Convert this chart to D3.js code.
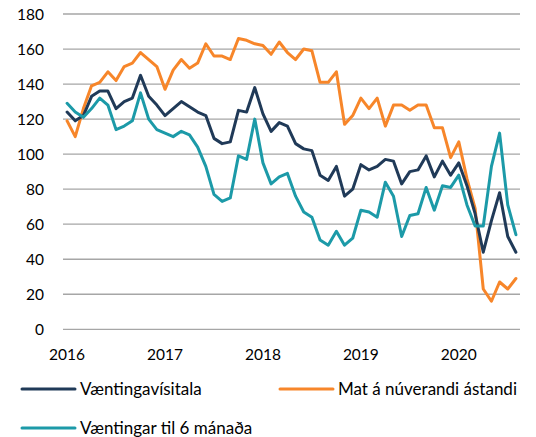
<!DOCTYPE html>
<html><head><meta charset="utf-8">
<script src="https://cdn.jsdelivr.net/npm/d3@7"></script>
<style>
html,body{margin:0;padding:0;background:#fff;}
svg text{font-family:Lato, "Liberation Sans", sans-serif;fill:#000;}
</style></head>
<body><svg id="c" width="536" height="437"></svg>
<script>
const startMonth = "2016-01";
const monthCount = 56;
const yearTicks = ["2016","2017","2018","2019","2020"];
const yTicks = [0,20,40,60,80,100,120,140,160,180];
const seriesNames = ["Væntingavísitala","Mat á núverandi ástandi","Væntingar til 6 mánaða"];
const seriesColors = ["#203a58","#f7862a","#1c9aa8"];
const vaentingavisitala = [124,119,122,133,136,136,126,130,132,145,133,128,
  122,126,130,127,124,122,109,106,107,125,124,138,
  123,113,118,116,106,103,102,88,85,93,76,80,
  94,91,93,97,96,83,90,91,99,87,
  96,88,95,82,66,44,62,78,53,44];
const matNuverandi = [119,110,126,139,141,147,142,150,152,158,154,150,
  137,148,154,149,152,163,156,156,154,166,165,163,
  162,157,164,158,154,160,159,141,141,147,117,122,
  132,126,132,116,128,128,125,128,128,115,
  115,98,107,86,69,23,16,27,23,29];
const vaentingar6 = [129,124,121,126,132,128,114,116,119,135,120,114,
  112,110,113,111,104,93,77,73,75,99,97,120,
  95,83,87,89,76,67,64,51,48,56,48,52,
  68,67,64,84,76,53,65,66,81,68,
  82,81,88,71,59,59,93,112,71,54];

const parse = d3.timeParse("%Y-%m");
const t0 = parse(startMonth);
const months = d3.timeMonth.range(t0, d3.timeMonth.offset(t0, monthCount));
const fmt = d3.timeFormat("%Y-%m");
const cats = months.map(fmt);

const svg = d3.select("#c");
const x = d3.scaleBand().domain(cats).range([63,520]).padding(0);
const y = d3.scaleLinear().domain([0,180]).range([329.3,14]);
const cx = c => x(c) + x.bandwidth()/2;

// gridlines
svg.append("g").selectAll("line").data(yTicks).join("line")
  .attr("x1",63).attr("x2",520)
  .attr("y1",d=>y(d)).attr("y2",d=>y(d))
  .attr("stroke","#a6a6a6").attr("stroke-width",1.3);

// y axis labels
const yAxis = d3.axisLeft(y).tickValues(yTicks).tickSize(0).tickPadding(0);
const gy = svg.append("g").attr("transform","translate(44,0)").call(yAxis);
gy.select(".domain").remove();
gy.selectAll("text").attr("font-size",15.5).attr("font-family","Lato, 'Liberation Sans', sans-serif").attr("fill","#000").attr("dy","0.35em");

// x axis labels
const xAxis = d3.axisBottom(x).tickValues(yearTicks.map(yr=>yr+"-01"))
  .tickFormat(d=>d.slice(0,4)).tickSize(0).tickPadding(0);
const gx = svg.append("g").attr("transform","translate(0,355)").call(xAxis);
gx.select(".domain").remove();
gx.selectAll("text").attr("font-size",15.5).attr("font-family","Lato, 'Liberation Sans', sans-serif").attr("fill","#000").attr("dy","0.35em");

const series = [vaentingavisitala, matNuverandi, vaentingar6];
const line = d3.line().x((d,i)=>cx(cats[i])).y(d=>y(d)).curve(d3.curveLinear);
[1,0,2].forEach(k=>{
  svg.append("path").datum(series[k]).attr("d",line)
    .attr("fill","none").attr("stroke",seriesColors[k])
    .attr("stroke-width",3).attr("stroke-linejoin","round").attr("stroke-linecap","round");
});

// legend
const legendPos = [{x:22,y:389},{x:280,y:389},{x:22,y:428}];
const lg = svg.append("g");
seriesNames.forEach((n,k)=>{
  const p = legendPos[k];
  lg.append("line").attr("x1",p.x).attr("x2",p.x+53).attr("y1",p.y).attr("y2",p.y)
    .attr("stroke",seriesColors[k]).attr("stroke-width",3).attr("stroke-linecap","round");
  lg.append("text").attr("x",p.x+58).attr("y",p.y).attr("dy","0.35em")
    .attr("font-size",17).text(n);
});
</script></body></html>
